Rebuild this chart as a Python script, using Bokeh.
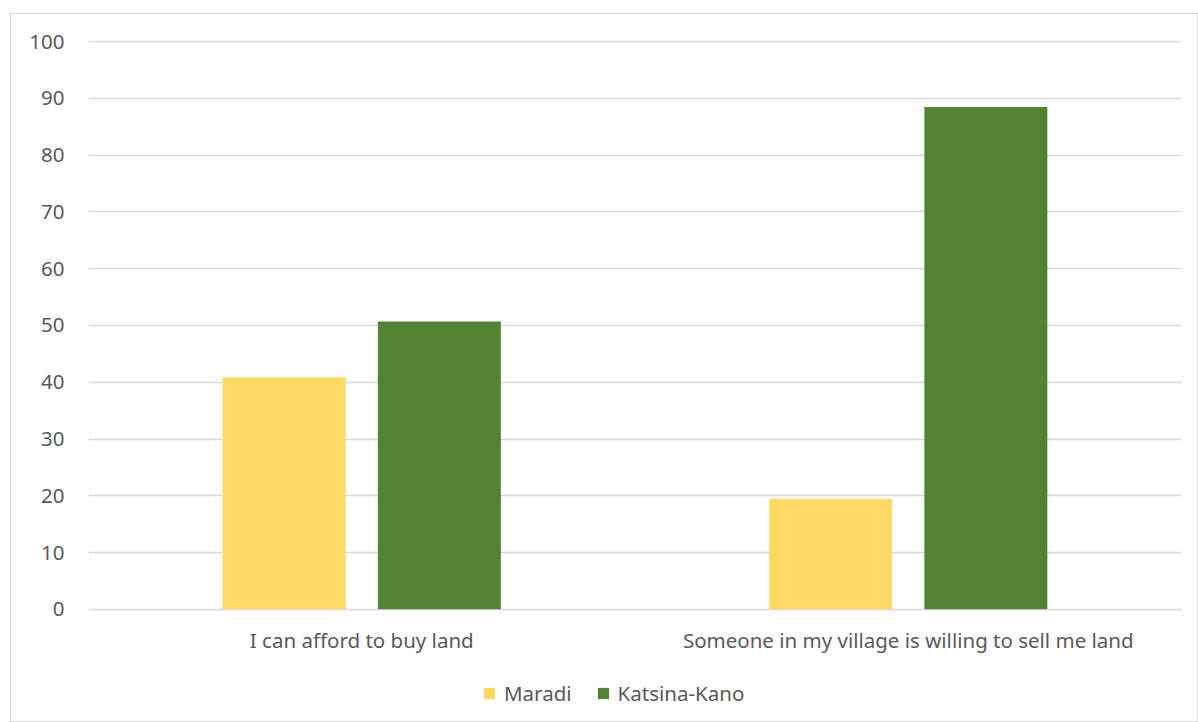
from bokeh.plotting import figure
from bokeh.models import ColumnDataSource, FactorRange, Legend, LegendItem
from bokeh.core.properties import value
from bokeh.transform import dodge
from bokeh.embed import file_html
from bokeh.resources import INLINE

categories = ["I can afford to buy land", "Someone in my village is willing to sell me land"]
series = ["Maradi", "Katsina-Kano"]
maradi = [40.9, 19.5]
katsina_kano = [50.7, 88.5]
colors = ["#FFD966", "#548235"]
y_ticks = list(range(0, 101, 10))

src = ColumnDataSource(dict(cat=categories, Maradi=maradi, KK=katsina_kano,
                            ly=[-5.47] * len(categories)))

FONT = "Noto Sans"
TXT = "#595959"
FS = "20.5px"

p = figure(width=1188, height=709, x_range=FactorRange(*categories, range_padding=0),
           y_range=(-17.64, 100.2), output_backend="svg", toolbar_location=None,
           min_border_left=77, min_border_right=18, min_border_top=26, min_border_bottom=14)
p.margin = (13, 0, 0, 10)
p.styles = {"border": "1px solid #d9d9d9", "box-sizing": "border-box"}
p.outline_line_color = None
p.background_fill_color = "white"
p.border_fill_color = "white"

r1 = p.vbar(x=dodge("cat", -0.142, range=p.x_range), top="Maradi", width=0.225, source=src,
            fill_color=colors[0], line_color=None)
r2 = p.vbar(x=dodge("cat", 0.142, range=p.x_range), top="KK", width=0.225, source=src,
            fill_color=colors[1], line_color=None)

# category labels under the zero line
p.text(x="cat", y="ly", text="cat", source=src, text_align="center", text_baseline="middle",
       text_font=value(FONT), text_font_size=FS, text_color=TXT)

p.xaxis.visible = False
p.xgrid.grid_line_color = None
p.ygrid.grid_line_color = "#D9D9D9"
p.ygrid.grid_line_width = 1.3
p.yaxis.ticker = y_ticks

ax = p.yaxis
ax.axis_line_color = None
ax.major_tick_line_color = None
ax.minor_tick_line_color = None
ax.major_tick_out = 0
ax.major_tick_in = 0
ax.major_label_text_font = FONT
ax.major_label_text_font_size = FS
ax.major_label_text_color = TXT
ax.major_label_standoff = 24

legend = Legend(items=[LegendItem(label=series[0], renderers=[r1]),
                       LegendItem(label=series[1], renderers=[r2])],
                orientation="horizontal", location=(394, 2))
legend.border_line_color = None
legend.background_fill_alpha = 0
legend.glyph_width = 14
legend.glyph_height = 14
legend.label_standoff = 8
legend.spacing = 24
legend.padding = 4
legend.margin = 0
legend.label_text_font = FONT
legend.label_text_font_size = FS
legend.label_text_color = TXT
p.add_layout(legend, "center")

open("out.html", "w").write(file_html(p, INLINE))
